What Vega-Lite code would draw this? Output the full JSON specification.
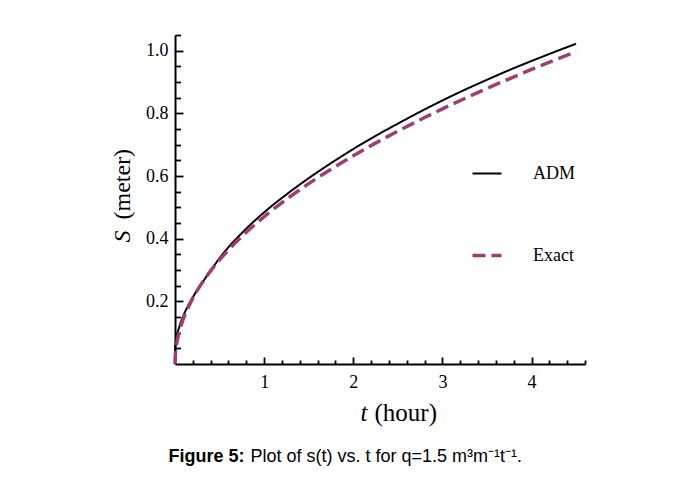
{
  "$schema": "https://vega.github.io/schema/vega-lite/v6.json",
  "autosize": {"type": "none"},
  "width": 410,
  "height": 329,
  "padding": {"left": 175, "top": 35, "right": 91, "bottom": 114},
  "background": "white",
  "config": {"view": {"stroke": null}},
  "data": {"values": [
    {"t": 0, "s": 0, "series": "ADM"},
    {"t": 0.001, "s": 0.04, "series": "ADM"},
    {"t": 0.005, "s": 0.06, "series": "ADM"},
    {"t": 0.01, "s": 0.072, "series": "ADM"},
    {"t": 0.02, "s": 0.088, "series": "ADM"},
    {"t": 0.05, "s": 0.12, "series": "ADM"},
    {"t": 0.1, "s": 0.158, "series": "ADM"},
    {"t": 0.2, "s": 0.213, "series": "ADM"},
    {"t": 0.3, "s": 0.257, "series": "ADM"},
    {"t": 0.4, "s": 0.298, "series": "ADM"},
    {"t": 0.5, "s": 0.338, "series": "ADM"},
    {"t": 0.75, "s": 0.418, "series": "ADM"},
    {"t": 1, "s": 0.484, "series": "ADM"},
    {"t": 1.25, "s": 0.541, "series": "ADM"},
    {"t": 1.5, "s": 0.593, "series": "ADM"},
    {"t": 1.75, "s": 0.641, "series": "ADM"},
    {"t": 2, "s": 0.686, "series": "ADM"},
    {"t": 2.25, "s": 0.728, "series": "ADM"},
    {"t": 2.5, "s": 0.767, "series": "ADM"},
    {"t": 2.75, "s": 0.805, "series": "ADM"},
    {"t": 3, "s": 0.841, "series": "ADM"},
    {"t": 3.25, "s": 0.875, "series": "ADM"},
    {"t": 3.5, "s": 0.907, "series": "ADM"},
    {"t": 3.75, "s": 0.938, "series": "ADM"},
    {"t": 4, "s": 0.967, "series": "ADM"},
    {"t": 4.25, "s": 0.995, "series": "ADM"},
    {"t": 4.5, "s": 1.022, "series": "ADM"},
    {"t": 0, "s": 0, "series": "Exact"},
    {"t": 0.005, "s": 0.0332, "series": "Exact"},
    {"t": 0.01, "s": 0.047, "series": "Exact"},
    {"t": 0.02, "s": 0.0665, "series": "Exact"},
    {"t": 0.03, "s": 0.0814, "series": "Exact"},
    {"t": 0.05, "s": 0.105, "series": "Exact"},
    {"t": 0.075, "s": 0.1287, "series": "Exact"},
    {"t": 0.1, "s": 0.1486, "series": "Exact"},
    {"t": 0.15, "s": 0.182, "series": "Exact"},
    {"t": 0.2, "s": 0.2102, "series": "Exact"},
    {"t": 0.3, "s": 0.2574, "series": "Exact"},
    {"t": 0.4, "s": 0.2973, "series": "Exact"},
    {"t": 0.5, "s": 0.3323, "series": "Exact"},
    {"t": 0.75, "s": 0.407, "series": "Exact"},
    {"t": 1, "s": 0.47, "series": "Exact"},
    {"t": 1.25, "s": 0.5255, "series": "Exact"},
    {"t": 1.5, "s": 0.5756, "series": "Exact"},
    {"t": 1.75, "s": 0.6218, "series": "Exact"},
    {"t": 2, "s": 0.6647, "series": "Exact"},
    {"t": 2.25, "s": 0.705, "series": "Exact"},
    {"t": 2.5, "s": 0.7431, "series": "Exact"},
    {"t": 2.75, "s": 0.7794, "series": "Exact"},
    {"t": 3, "s": 0.8141, "series": "Exact"},
    {"t": 3.25, "s": 0.8473, "series": "Exact"},
    {"t": 3.5, "s": 0.8793, "series": "Exact"},
    {"t": 3.75, "s": 0.9102, "series": "Exact"},
    {"t": 4, "s": 0.94, "series": "Exact"},
    {"t": 4.25, "s": 0.9689, "series": "Exact"},
    {"t": 4.5, "s": 0.997, "series": "Exact"}
  ]},
  "resolve": {"axis": {"x": "independent", "y": "independent"}},
  "layer": [
    {
      "mark": {"type": "line", "strokeCap": "butt", "interpolate": "monotone"},
      "encoding": {
        "x": {"field": "t", "type": "quantitative",
          "scale": {"domain": [0, 4.6], "nice": false, "zero": false},
          "axis": {"orient": "bottom", "values": [1, 2, 3, 4], "format": "d", "grid": false,
            "tickSize": -7, "tickWidth": 1.8, "tickColor": "black",
            "domainColor": "black", "domainWidth": 2,
            "labelFont": "Liberation Serif", "labelFontSize": 18, "labelColor": "black", "labelPadding": 16,
            "labelFlush": false, "labelOverlap": false,
            "title": "(hour)", "titleFont": "Liberation Serif", "titleFontSize": 25, "titleFontWeight": "normal",
            "titleColor": "black", "titleX": 199, "titleY": 56, "titleAlign": "left", "titleBaseline": "alphabetic", "titleAngle": 0}},
        "y": {"field": "s", "type": "quantitative",
          "scale": {"domain": [0, 1.05], "nice": false, "zero": false},
          "axis": {"orient": "left", "values": [0.2, 0.4, 0.6, 0.8, 1.0], "format": ".1f", "grid": false,
            "tickSize": -8, "tickWidth": 1.8, "tickColor": "black",
            "domainColor": "black", "domainWidth": 2,
            "labelFont": "Liberation Serif", "labelFontSize": 18, "labelColor": "black", "labelPadding": 15,
            "labelFlush": false, "labelOverlap": false,
            "title": "(meter)", "titleFont": "Liberation Serif", "titleFontSize": 24, "titleFontWeight": "normal",
            "titleColor": "black", "titleX": -46, "titleY": 184, "titleAlign": "left", "titleBaseline": "alphabetic", "titleAngle": -90}},
        "color": {"field": "series", "type": "nominal",
          "scale": {"domain": ["ADM", "Exact"], "range": ["black", "#9d3e75"]},
          "legend": {"orient": "none", "legendX": 303, "legendY": 129.5, "title": null, "padding": 0,
            "symbolType": "stroke", "symbolSize": 841, "labelFont": "Liberation Serif", "labelFontSize": 18,
            "labelColor": "black", "labelOffset": 37, "rowPadding": 64,
            "encode": {"symbols": {"update": {
              "strokeWidth": {"signal": "datum.value === 'Exact' ? 3.5 : 2.2"},
              "strokeDash": {"signal": "datum.value === 'Exact' ? [9.5, 2.5] : [1, 0]"}}}}}},
        "strokeDash": {"field": "series", "type": "nominal",
          "scale": {"domain": ["ADM", "Exact"], "range": [[1, 0], [13, 6]]}},
        "strokeWidth": {"condition": {"test": "datum.series === 'Exact'", "value": 3.5}, "value": 2}
      }
    },
    {
      "mark": {"type": "line", "strokeOpacity": 0},
      "encoding": {
        "x": {"field": "t", "type": "quantitative",
          "axis": {"orient": "bottom", "values": [0.2, 0.4, 0.6, 0.8, 1.2, 1.4, 1.6, 1.8, 2.2, 2.4, 2.6, 2.8, 3.2, 3.4, 3.6, 3.8, 4.2, 4.4, 4.6],
            "grid": false, "labels": false, "domain": false,
            "tickSize": -4, "tickWidth": 1.8, "tickColor": "black",
            "title": "t", "titleFont": "Liberation Serif", "titleFontSize": 25, "titleFontWeight": "normal", "titleFontStyle": "italic",
            "titleColor": "black", "titleX": 185, "titleY": 56, "titleAlign": "left", "titleBaseline": "alphabetic", "titleAngle": 0}},
        "y": {"field": "s", "type": "quantitative",
          "axis": {"orient": "left", "values": [0.05, 0.1, 0.15, 0.25, 0.3, 0.35, 0.45, 0.5, 0.55, 0.65, 0.7, 0.75, 0.85, 0.9, 0.95, 1.05],
            "grid": false, "labels": false, "domain": false,
            "tickSize": -5.5, "tickWidth": 1.8, "tickColor": "black",
            "title": "S", "titleFont": "Liberation Serif", "titleFontSize": 24, "titleFontWeight": "normal", "titleFontStyle": "italic",
            "titleColor": "black", "titleX": -46, "titleY": 207, "titleAlign": "left", "titleBaseline": "alphabetic", "titleAngle": -90}}
      }
    },
    {
      "mark": {"type": "point", "opacity": 0},
      "encoding": {
        "x": {"field": "t", "type": "quantitative",
          "axis": {"orient": "bottom", "grid": false, "labels": false, "domain": false, "ticks": false,
            "title": "Figure 5:", "titleFont": "Liberation Sans", "titleFontSize": 18, "titleFontWeight": "bold",
            "titleColor": "black", "titleX": -7, "titleY": 97, "titleAlign": "left", "titleBaseline": "alphabetic", "titleAngle": 0}}
      }
    },
    {
      "mark": {"type": "point", "opacity": 0},
      "encoding": {
        "x": {"field": "t", "type": "quantitative",
          "axis": {"orient": "bottom", "grid": false, "labels": false, "domain": false, "ticks": false,
            "title": "Plot of s(t) vs. t for q=1.5 m³m⁻¹t⁻¹.", "titleFont": "Liberation Sans", "titleFontSize": 18, "titleFontWeight": "normal",
            "titleColor": "black", "titleX": 75, "titleY": 97, "titleAlign": "left", "titleBaseline": "alphabetic", "titleAngle": 0}}
      }
    }
  ]
}
